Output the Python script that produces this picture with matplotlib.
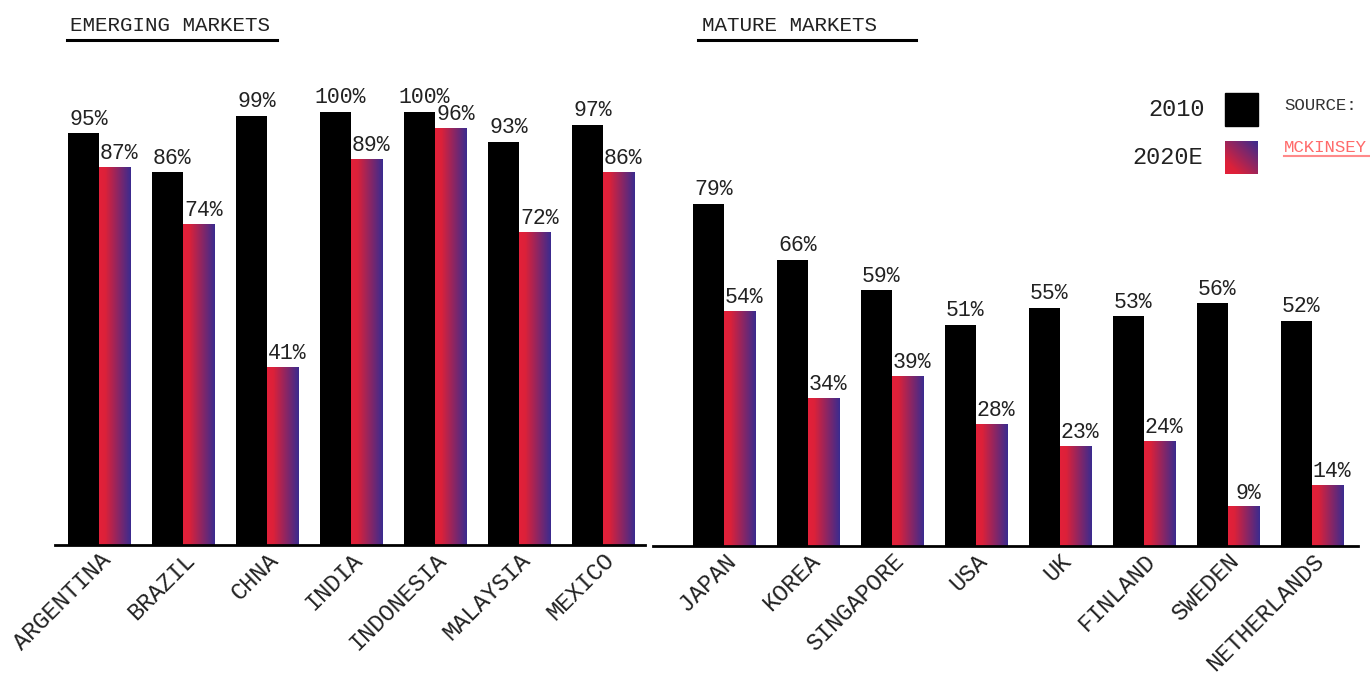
import numpy as np
import matplotlib
matplotlib.use("Agg")
import matplotlib.pyplot as plt
from matplotlib.colors import LinearSegmentedColormap
from matplotlib.lines import Line2D
from matplotlib.patches import Rectangle
import matplotlib.transforms as mtransforms

# share of cash transactions, 2010 vs 2020 estimate
emerging = ["ARGENTINA", "BRAZIL", "CHNA", "INDIA", "INDONESIA", "MALAYSIA", "MEXICO"]
emerging_2010 = [95, 86, 99, 100, 100, 93, 97]
emerging_2020 = [87, 74, 41, 89, 96, 72, 86]

mature = ["JAPAN", "KOREA", "SINGAPORE", "USA", "UK", "FINLAND", "SWEDEN", "NETHERLANDS"]
mature_2010 = [79, 66, 59, 51, 55, 53, 56, 52]
mature_2020 = [54, 34, 39, 28, 23, 24, 9, 14]

series_labels = ["2010", "2020E"]
panel_titles = ["EMERGING MARKETS", "MATURE MARKETS"]

plt.rcParams['font.family'] = ['Liberation Mono', 'DejaVu Sans Mono']
TEXT = '#222222'
grad = LinearSegmentedColormap.from_list(
    'redblue', [(0, '#e3203a'), (0.2, '#dc2139'), (1, '#3a2b8f')])
gradient = np.linspace(0, 1, 256).reshape(1, -1)

W = 0.37
W_PX, H_PX = 1370, 677


def fx(px):
    return px / W_PX


def fy(py):
    return 1 - py / H_PX


fig = plt.figure(figsize=(13.7, 6.77), dpi=100)


def draw_panel(ax, names, v2010, v2020, xlim):
    x = np.arange(len(names))
    ax.bar(x - W / 2, v2010, W, color='black', zorder=2)
    for xi, v in zip(x, v2020):
        ax.imshow(gradient, cmap=grad, aspect='auto', zorder=2,
                  extent=[xi, xi + W, 0, v])
    for xs, vals in ((x - W / 2, v2010), (x + W / 2, v2020)):
        for xi, v in zip(xs, vals):
            ax.annotate(f"{v}%", (xi, v), xytext=(3.5, 2.5),
                        textcoords='offset points', ha='center', va='bottom',
                        fontsize=15.5, color=TEXT)
    ax.set_xlim(*xlim)
    ax.set_ylim(0, 110)
    ax.set_xticks(x)
    ax.set_xticklabels(names, rotation=45, ha='right', va='top',
                       rotation_mode='anchor', fontsize=17, color=TEXT)
    shift = mtransforms.ScaledTranslation(12 / 100, 0, fig.dpi_scale_trans)
    for lab in ax.get_xticklabels():
        lab.set_transform(lab.get_transform() + shift)
    ax.tick_params(axis='x', length=0, pad=2.5)
    ax.set_yticks([])
    for s in ['left', 'right', 'top']:
        ax.spines[s].set_visible(False)
    ax.spines['bottom'].set_linewidth(2)
    ax.patch.set_alpha(0)


ax1 = fig.add_axes([fx(55), fy(545), fx(645) - fx(55), 110 * 4.335 / H_PX])
draw_panel(ax1, emerging, emerging_2010, emerging_2020, (-0.524, 6.5))

ax2 = fig.add_axes([fx(653), fy(546), fx(1358) - fx(653), 110 * 4.335 / H_PX])
draw_panel(ax2, mature, mature_2010, mature_2020, (-0.845, 7.55))

# panel titles with underline
fig.text(fx(70), fy(31), panel_titles[0], va='baseline', fontsize=15, color=TEXT)
fig.add_artist(Line2D([fx(67), fx(277)], [fy(40), fy(40)], color='black', lw=2.2))
fig.text(fx(702), fy(31), panel_titles[1], va='baseline', fontsize=15, color=TEXT)
fig.add_artist(Line2D([fx(698), fx(916)], [fy(40), fy(40)], color='black', lw=2.2))

# legend
fig.add_artist(Rectangle((fx(1225), fy(126)), 33 / W_PX, 33 / H_PX,
                         transform=fig.transFigure, color='black'))
lax = fig.add_axes([fx(1225), fy(174), 33 / W_PX, 33 / H_PX])
n = 64
ii, jj = np.mgrid[0:n, 0:n]
lax.imshow((ii + jj) / (2 * (n - 1)), cmap=grad, origin='lower', aspect='auto')
lax.axis('off')
fig.text(fx(1205), fy(110), series_labels[0], ha='right', va='center', fontsize=17, color=TEXT)
fig.text(fx(1203), fy(158), series_labels[1], ha='right', va='center', fontsize=17, color=TEXT)

# source note
fig.text(fx(1284), fy(106), "SOURCE:", ha='left', va='center', fontsize=12.5, color='#333333')
fig.text(fx(1284), fy(148), "MCKINSEY", ha='left', va='center', fontsize=12.5, color='#ff6b6b')
fig.add_artist(Line2D([fx(1284), fx(1370)], [fy(156), fy(156)], color='#ff8a8a', lw=1.5))

fig.savefig('out.png', dpi=100)
